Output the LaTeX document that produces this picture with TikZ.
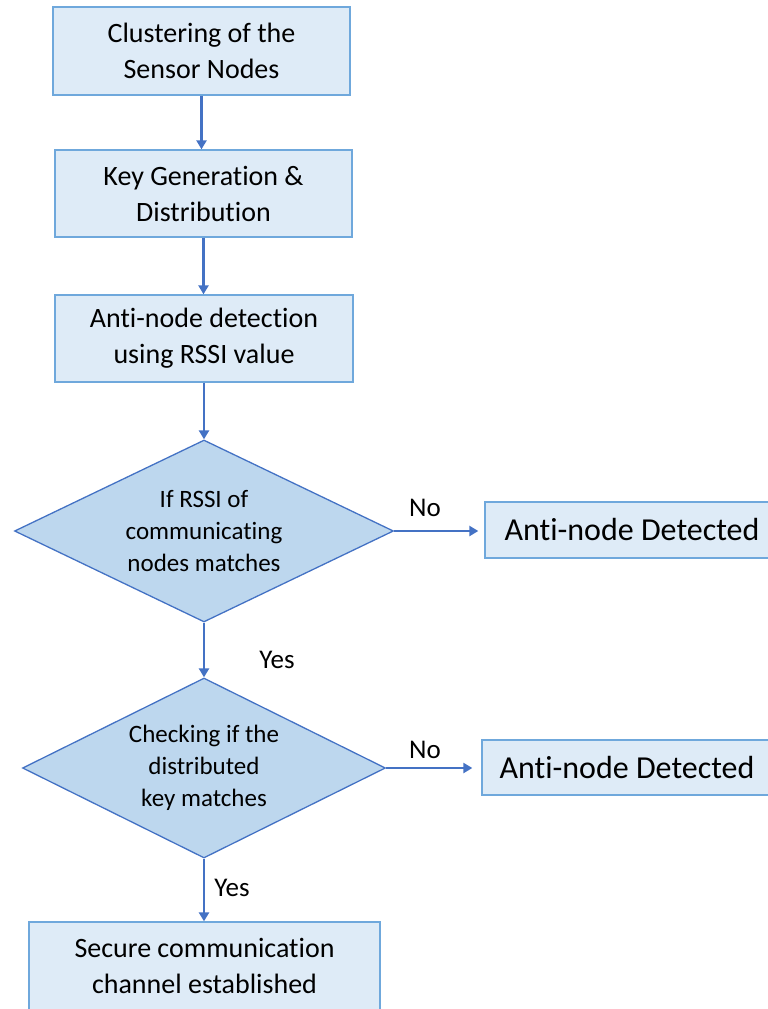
\documentclass[tikz,border=0pt]{standalone}
\usepackage{fontspec}
\setmainfont{Carlito}[Ligatures={NoCommon}]
\usetikzlibrary{shapes.geometric,arrows.meta}
\definecolor{boxfill}{HTML}{DEEBF7}
\definecolor{boxline}{HTML}{6FA8DC}
\definecolor{diafill}{HTML}{BDD7EE}
\definecolor{dialine}{HTML}{4472C4}
\definecolor{arrcol}{HTML}{4472C4}
\begin{document}
\begin{tikzpicture}[x=1pt,y=-1pt,
  stepbox/.style={draw=boxline, fill=boxfill, line width=1.3pt, align=center,
    inner sep=0pt, font=\fontsize{28}{36}\selectfont},
  outbox/.style={draw=boxline, fill=boxfill, line width=1.3pt, align=center,
    inner sep=0pt, font=\fontsize{32}{38}\selectfont},
  decision/.style={diamond, draw=dialine, fill=diafill, line width=1.3pt, align=center,
    inner sep=0pt, font=\fontsize{25}{32}\selectfont},
  flow/.style={draw=arrcol, line width=2.4pt, -{Triangle[length=9pt,width=10pt]}},
  lbl/.style={font=\fontsize{27}{32}\selectfont, inner sep=0pt}]
\useasboundingbox (0,0) rectangle (768,1009);
\clip (0,0) rectangle (768,1009);

\node[stepbox, minimum width=297pt, minimum height=88pt] (n1) at (201.5,51) {Clustering of the\\Sensor Nodes};
\node[stepbox, minimum width=297pt, minimum height=87pt] (n2) at (203.5,193.5) {Key Generation \&\\Distribution};
\node[stepbox, minimum width=298pt, minimum height=87pt] (n3) at (204,338.5) {Anti-node detection\\using RSSI value};
\node[decision, aspect=2.08, minimum width=379pt, minimum height=182pt] (d1) at (204,531) {If RSSI of\\communicating\\nodes matches};
\node[outbox, minimum width=294pt, minimum height=56pt] (a1) at (632,530) {Anti-node Detected};
\node[decision, aspect=2.02, minimum width=363pt, minimum height=180pt] (d2) at (204,768) {Checking if the\\distributed\\key matches};
\node[outbox, minimum width=290pt, minimum height=55pt] (a2) at (627,767.5) {Anti-node Detected};
\node[stepbox, minimum width=351pt, minimum height=88pt] (n4) at (204.5,966) {Secure communication\\channel established};

\draw[flow] (n1.south) -- (n1.south |- n2.north);
\draw[flow] (n2.south) -- (n2.south |- n3.north);
\draw[flow] (n3.south) -- (n3.south |- d1.north);
\draw[flow] (d1.south) -- (d2.north);
\draw[flow] (d2.south) -- (d2.south |- n4.north);
\draw[flow, shorten >=6pt] (d1.east) -- (d1.east -| a1.west);
\draw[flow, shorten >=9pt] (d2.east) -- (d2.east -| a2.west);

\node[lbl] (no1) at (425,508) {No};
\node[lbl] (no2) at (425,750) {No};
\node[lbl] (yes1) at (277,660) {Yes};
\node[lbl] (yes2) at (232,888) {Yes};
\end{tikzpicture}
\end{document}
